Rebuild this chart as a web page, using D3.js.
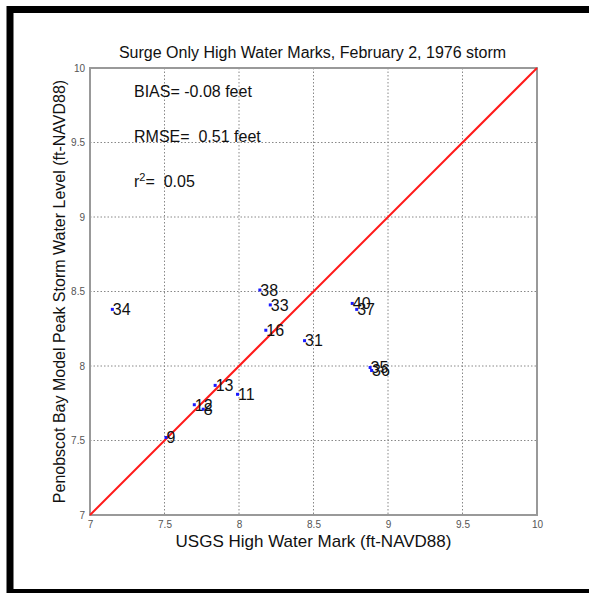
<!DOCTYPE html>
<html>
<head>
<meta charset="utf-8">
<script src="https://cdn.jsdelivr.net/npm/d3@7"></script>
<style>
    body { margin: 0; background: #fff; }
    svg { display: block; font-family: "Liberation Sans", Arial, sans-serif; }
    text { white-space: pre; }
</style>
</head>
<body>
<div id="chart"></div>
<script>
// Données
const stationIds = ['34', '38', '33', '16', '31', '13', '11', '12', '8', '9', '40', '37', '35', '36'];
const usgsMarks  = [7.15, 8.14, 8.21, 8.18, 8.44, 7.84, 7.99, 7.70, 7.76, 7.51, 8.76, 8.79, 8.88, 8.89];
const modelPeaks = [8.38, 8.51, 8.41, 8.24, 8.17, 7.87, 7.81, 7.74, 7.71, 7.52, 8.42, 8.38, 7.99, 7.97];
const tickValues = [7, 7.5, 8, 8.5, 9, 9.5, 10];
const statLines  = ['BIAS= -0.08 feet', 'RMSE=  0.51 feet', 'r2=  0.05'];

const WIDTH = 589;
const HEIGHT = 593;
const PLOT = { left: 90, right: 537, top: 68, bottom: 515 };

const svg = d3.select('#chart').append('svg')
    .attr('width', WIDTH)
    .attr('height', HEIGHT);

// Cadre noir autour de la figure
svg.append('path')
    .attr('d', `M10,${HEIGHT + 10} V9.5 H${WIDTH + 10}`)
    .attr('fill', 'none')
    .attr('stroke', '#000')
    .attr('stroke-width', 7);
svg.append('rect')
    .attr('x', 7).attr('y', 589)
    .attr('width', WIDTH).attr('height', 6)
    .attr('fill', '#000');

const x = d3.scaleLinear().domain([7, 10]).range([PLOT.left, PLOT.right]);
const y = d3.scaleLinear().domain([7, 10]).range([PLOT.bottom, PLOT.top]);

const g = svg.append('g');

// Grille pointillée
const inner = tickValues.slice(1, -1);
g.selectAll('.vgrid').data(inner).enter().append('line')
    .attr('x1', d => x(d)).attr('x2', d => x(d))
    .attr('y1', PLOT.top).attr('y2', PLOT.bottom)
    .attr('stroke', '#888').attr('stroke-width', 1)
    .attr('stroke-dasharray', '1.5,2');
g.selectAll('.hgrid').data(inner).enter().append('line')
    .attr('y1', d => y(d)).attr('y2', d => y(d))
    .attr('x1', PLOT.left).attr('x2', PLOT.right)
    .attr('stroke', '#888').attr('stroke-width', 1)
    .attr('stroke-dasharray', '1.5,2');

// Axes
const xAxis = d3.axisBottom(x).tickValues(tickValues).tickSize(0).tickPadding(6)
    .tickFormat(d3.format('~g'));
const yAxis = d3.axisLeft(y).tickValues(tickValues).tickSize(0).tickPadding(5)
    .tickFormat(d3.format('~g'));

const xg = g.append('g').attr('transform', `translate(0,${PLOT.bottom})`).call(xAxis);
const yg = g.append('g').attr('transform', `translate(${PLOT.left},0)`).call(yAxis);
[xg, yg].forEach(a => {
    a.select('.domain').remove();
    a.selectAll('text').attr('fill', '#555').attr('font-size', '10px')
        .attr('font-family', '"Liberation Sans", Arial, sans-serif');
});

// Boîte des axes
g.append('rect')
    .attr('x', PLOT.left).attr('y', PLOT.top)
    .attr('width', PLOT.right - PLOT.left).attr('height', PLOT.bottom - PLOT.top)
    .attr('fill', 'none').attr('stroke', '#999').attr('stroke-width', 2);

// Droite 1:1
g.append('line')
    .attr('x1', x(7)).attr('y1', y(7))
    .attr('x2', x(10)).attr('y2', y(10))
    .attr('stroke', '#ff1a1a').attr('stroke-width', 2);

// Points et étiquettes
const pts = g.selectAll('.pt').data(stationIds).enter().append('g');
pts.append('rect')
    .attr('x', (d, i) => x(usgsMarks[i]) - 1.5)
    .attr('y', (d, i) => y(modelPeaks[i]) - 1.5)
    .attr('width', 3).attr('height', 3)
    .attr('fill', '#1a1aff');
pts.append('text')
    .attr('x', (d, i) => x(usgsMarks[i]) + 0.5)
    .attr('y', (d, i) => y(modelPeaks[i]))
    .attr('dy', '0.36em')
    .attr('font-size', '16px')
    .attr('fill', '#111')
    .text(d => d);

// Statistiques
const stats = g.append('g');
statLines.forEach((s, i) => {
    const t = stats.append('text')
        .attr('x', 134).attr('y', 97 + i * 45)
        .attr('font-size', '16px').attr('fill', '#111');
    if (s.startsWith('r2')) {
        t.append('tspan').text('r');
        t.append('tspan').attr('dy', -6).attr('font-size', '11px').text('2');
        t.append('tspan').attr('dy', 6).text(s.slice(2));
    } else {
        t.text(s);
    }
});

// Titre et libellés
svg.append('text')
    .attr('x', (PLOT.left + PLOT.right) / 2 - 1).attr('y', 58)
    .attr('text-anchor', 'middle').attr('font-size', '16px').attr('fill', '#111')
    .text('Surge Only High Water Marks, February 2, 1976 storm');

svg.append('text')
    .attr('x', (PLOT.left + PLOT.right) / 2).attr('y', 547)
    .attr('text-anchor', 'middle').attr('font-size', '17px').attr('fill', '#111')
    .text('USGS High Water Mark (ft-NAVD88)');

svg.append('text')
    .attr('transform', `translate(65,${(PLOT.top + PLOT.bottom) / 2}) rotate(-90)`)
    .attr('text-anchor', 'middle').attr('font-size', '16px').attr('fill', '#111')
    .text('Penobscot Bay Model Peak Storm Water Level (ft-NAVD88)');
</script>
</body>
</html>
